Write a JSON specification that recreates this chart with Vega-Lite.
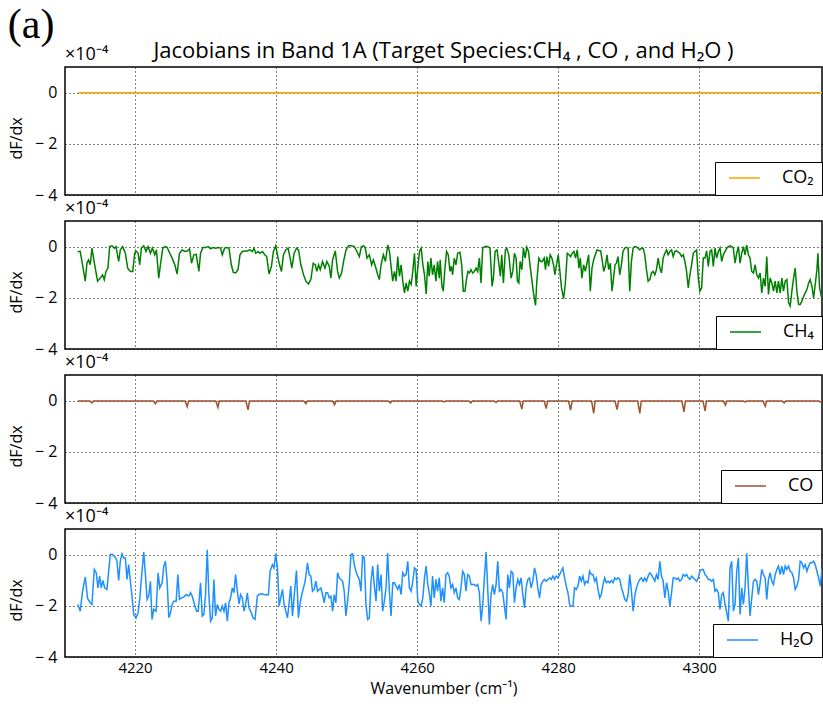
{
  "$schema": "https://vega.github.io/schema/vega-lite/v6.json",
  "padding": {"left": 7, "top": 4, "right": 0, "bottom": 0},
  "title": {"text": "(a)", "anchor": "start", "frame": "bounds", "font": "Liberation Serif", "fontSize": 42, "fontWeight": "normal", "color": "black", "offset": -8, "dx": 0},
  "spacing": 26,
  "bounds": "flush",
  "resolve": {"scale": {"color": "independent"}},
  "config": {
    "font": "Open Sans",
    "view": {"stroke": "black", "strokeWidth": 1.5},
    "axis": {"domain": false, "gridColor": "black", "gridDash": [1, 3], "gridOpacity": 1, "gridWidth": 1, "labelFontSize": 16, "labelColor": "black", "titleColor": "black", "titleFontWeight": "normal", "titleFontSize": 16, "ticks": false},
    "legend": {"orient": "bottom-right", "offset": 0, "strokeColor": "black", "fillColor": "white", "padding": 8, "symbolType": "stroke", "symbolSize": 961, "symbolStrokeWidth": 1.5, "symbolOffset": 5, "clipHeight": 16, "labelFontSize": 18, "labelOffset": 21, "labelColor": "black", "cornerRadius": 0},
    "title": {"fontWeight": "normal", "color": "black"}
  },
  "datasets": {
    "co2": [{"x": 4211.9, "y": -0.01}, {"x": 4240, "y": -0.01}, {"x": 4280, "y": -0.01}, {"x": 4317.6, "y": -0.01}],
    "ch4": [
      {"x":4211.85,"y":-0.19},{"x":4212.23,"y":-0.19},{"x":4212.56,"y":-0.71},{"x":4212.94,"y":-1.35},{"x":4213.18,"y":-0.65},{"x":4213.41,"y":-0.52},{"x":4213.65,"y":-0.71},{"x":4213.89,"y":-0.06},{"x":4214.12,"y":-0.45},{"x":4214.36,"y":-0.84},{"x":4214.69,"y":-1.35},{"x":4215.07,"y":-1.23},{"x":4215.40,"y":-1.10},{"x":4215.64,"y":-1.29},{"x":4215.88,"y":-0.97},{"x":4216.16,"y":-0.84},{"x":4216.40,"y":0},{"x":4216.73,"y":0.03},{"x":4217.06,"y":-0.06},{"x":4217.30,"y":0},{"x":4217.68,"y":-0.58},{"x":4217.91,"y":-0.13},{"x":4218.25,"y":0},{"x":4218.63,"y":-0.26},{"x":4218.96,"y":-0.84},{"x":4219.34,"y":-0.97},{"x":4219.67,"y":-0.97},{"x":4219.95,"y":-0.26},
      {"x":4220.14,"y":-0.17},{"x":4220.43,"y":-0.26},{"x":4220.66,"y":-0.71},{"x":4220.90,"y":-0.06},{"x":4221.23,"y":0.03},{"x":4221.56,"y":-0.19},{"x":4221.85,"y":0},{"x":4222.18,"y":-0.26},{"x":4222.46,"y":-0.06},{"x":4222.80,"y":-0.32},{"x":4223.03,"y":-0.13},{"x":4223.36,"y":-1.23},{"x":4223.60,"y":-0.71},{"x":4223.93,"y":-0.06},{"x":4224.22,"y":0},{"x":4224.55,"y":-0.03},{"x":4224.93,"y":-0.26},{"x":4225.26,"y":-0.45},{"x":4225.64,"y":-0.71},{"x":4225.97,"y":-1.07},{"x":4226.30,"y":-0.26},{"x":4226.68,"y":-0.13},{"x":4227.06,"y":-0.19},{"x":4227.39,"y":-0.17},{"x":4227.73,"y":-0.09},{"x":4228.01,"y":-0.65},{"x":4228.34,"y":-0.32},{"x":4228.67,"y":-0.30},{"x":4229.05,"y":-0.97},{"x":4229.29,"y":-0.26},{"x":4229.62,"y":-0.04},
      {"x":4230.00,"y":-0.04},{"x":4230.38,"y":0},{"x":4230.71,"y":-0.09},{"x":4231.04,"y":-0.04},{"x":4231.42,"y":-0.06},{"x":4231.80,"y":-0.04},{"x":4232.13,"y":-0.06},{"x":4232.37,"y":-0.32},{"x":4232.70,"y":-0.06},{"x":4232.99,"y":-0.04},{"x":4233.32,"y":-0.06},{"x":4233.65,"y":-0.71},{"x":4233.93,"y":-1.01},{"x":4234.27,"y":-1.03},{"x":4234.60,"y":-0.90},{"x":4234.88,"y":-0.32},{"x":4235.21,"y":-0.19},{"x":4235.59,"y":-0.17},{"x":4235.92,"y":-0.17},{"x":4236.26,"y":-0.13},{"x":4236.64,"y":-0.19},{"x":4236.87,"y":-0.06},{"x":4237.11,"y":-0.26},{"x":4237.44,"y":-0.19},{"x":4237.73,"y":-0.26},{"x":4238.06,"y":-0.19},{"x":4238.39,"y":-0.32},{"x":4238.67,"y":-0.39},{"x":4239.00,"y":-1.07},{"x":4239.34,"y":-0.77},{"x":4239.62,"y":-0.19},{"x":4239.95,"y":0.03},
      {"x":4240.19,"y":-0.32},{"x":4240.43,"y":-0.65},{"x":4240.76,"y":-0.97},{"x":4241.04,"y":-0.32},{"x":4241.37,"y":-0.13},{"x":4241.71,"y":-0.06},{"x":4241.99,"y":-0.45},{"x":4242.23,"y":-0.84},{"x":4242.56,"y":-0.26},{"x":4242.89,"y":-0.06},{"x":4243.18,"y":-0.13},{"x":4243.51,"y":-0.71},{"x":4243.89,"y":-1.10},{"x":4244.22,"y":-1.35},{"x":4244.60,"y":-1.46},{"x":4244.93,"y":-1.29},{"x":4245.26,"y":-0.65},{"x":4245.55,"y":-0.71},{"x":4245.78,"y":-0.97},{"x":4246.02,"y":-0.71},{"x":4246.26,"y":-0.90},{"x":4246.59,"y":-0.58},{"x":4246.92,"y":-0.84},{"x":4247.20,"y":-0.58},{"x":4247.54,"y":-0.77},{"x":4247.77,"y":-1.23},{"x":4248.01,"y":-0.52},{"x":4248.39,"y":-0.17},{"x":4248.72,"y":-0.97},{"x":4248.96,"y":-1.23},{"x":4249.29,"y":-1.03},{"x":4249.57,"y":-0.58},{"x":4249.91,"y":-0.13},
      {"x":4250.28,"y":0.03},{"x":4250.71,"y":0.03},{"x":4251.09,"y":0},{"x":4251.47,"y":-0.19},{"x":4251.80,"y":-0.39},{"x":4252.09,"y":0},{"x":4252.42,"y":0.03},{"x":4252.65,"y":-0.06},{"x":4252.89,"y":-0.45},{"x":4253.22,"y":-0.32},{"x":4253.55,"y":-0.71},{"x":4253.79,"y":-0.52},{"x":4254.08,"y":-0.77},{"x":4254.41,"y":-1.10},{"x":4254.64,"y":-1.29},{"x":4254.88,"y":-0.71},{"x":4255.21,"y":-0.32},{"x":4255.50,"y":-0.58},{"x":4255.83,"y":0.06},{"x":4256.07,"y":-0.19},{"x":4256.30,"y":-0.77},{"x":4256.54,"y":-1.35},{"x":4256.78,"y":-0.97},{"x":4257.01,"y":-1.35},{"x":4257.25,"y":-0.39},{"x":4257.49,"y":-1.16},{"x":4257.73,"y":-0.71},{"x":4257.96,"y":-1.35},{"x":4258.20,"y":-1.81},{"x":4258.44,"y":-1.42},{"x":4258.67,"y":-1.74},{"x":4258.91,"y":-1.35},{"x":4259.15,"y":-1.48},{"x":4259.38,"y":-0.97},{"x":4259.62,"y":-0.26},{"x":4259.86,"y":-1.55},
      {"x":4260.09,"y":-0.84},{"x":4260.33,"y":-0.19},{"x":4260.57,"y":-0.06},{"x":4260.81,"y":-0.71},{"x":4261.04,"y":-1.10},{"x":4261.28,"y":-1.85},{"x":4261.52,"y":-0.58},{"x":4261.71,"y":-1.16},{"x":4261.95,"y":-0.45},{"x":4262.18,"y":-1.10},{"x":4262.42,"y":-0.71},{"x":4262.66,"y":-1.35},{"x":4262.89,"y":-0.58},{"x":4263.13,"y":-1.23},{"x":4263.27,"y":-0.52},{"x":4263.51,"y":-1.55},{"x":4263.70,"y":-1.74},{"x":4263.94,"y":-0.84},{"x":4264.17,"y":-0.19},{"x":4264.41,"y":-0.32},{"x":4264.65,"y":-0.97},{"x":4264.84,"y":-0.77},{"x":4265.03,"y":-1.10},{"x":4265.26,"y":-0.45},{"x":4265.50,"y":-0.71},{"x":4265.74,"y":-0.26},{"x":4266.07,"y":-0.22},{"x":4266.31,"y":-0.71},{"x":4266.54,"y":-1.74},{"x":4266.78,"y":-1.74},{"x":4267.02,"y":-1.23},{"x":4267.21,"y":-0.97},{"x":4267.40,"y":-1.03},{"x":4267.63,"y":-0.90},{"x":4267.87,"y":-1.03},{"x":4268.11,"y":-0.97},{"x":4268.34,"y":-0.84},{"x":4268.58,"y":-0.97},{"x":4268.82,"y":-0.45},{"x":4269.06,"y":-1.42},{"x":4269.29,"y":-0.06},{"x":4269.62,"y":0},
      {"x":4270.00,"y":0},{"x":4270.33,"y":-0.06},{"x":4270.62,"y":-1.55},{"x":4270.81,"y":-1.23},{"x":4271.05,"y":-0.19},{"x":4271.33,"y":-0.13},{"x":4271.57,"y":-0.65},{"x":4271.80,"y":-1.16},{"x":4271.99,"y":-0.32},{"x":4272.23,"y":-1.42},{"x":4272.51,"y":-0.13},{"x":4272.70,"y":-0.06},{"x":4272.99,"y":-0.32},{"x":4273.32,"y":-1.23},{"x":4273.56,"y":-0.97},{"x":4273.79,"y":-0.26},{"x":4274.03,"y":-0.45},{"x":4274.22,"y":-1.35},{"x":4274.41,"y":-1.42},{"x":4274.60,"y":-0.58},{"x":4274.84,"y":-0.90},{"x":4275.07,"y":-0.06},{"x":4275.31,"y":-0.45},{"x":4275.55,"y":-0.03},{"x":4275.79,"y":-0.19},{"x":4276.02,"y":-0.77},{"x":4276.26,"y":-1.29},{"x":4276.49,"y":-1.81},{"x":4276.78,"y":-2.30},{"x":4276.97,"y":-1.35},{"x":4277.25,"y":-0.45},{"x":4277.49,"y":-0.58},{"x":4277.73,"y":-0.58},{"x":4278.01,"y":-0.45},{"x":4278.20,"y":-0.90},{"x":4278.39,"y":-0.39},{"x":4278.63,"y":-0.77},{"x":4278.86,"y":-0.32},{"x":4279.10,"y":-0.45},{"x":4279.34,"y":-0.71},{"x":4279.53,"y":-1.10},{"x":4279.72,"y":-0.77},
      {"x":4280.00,"y":-0.32},{"x":4280.19,"y":-0.84},{"x":4280.47,"y":-1.61},{"x":4280.76,"y":-2.03},{"x":4281.00,"y":-1.48},{"x":4281.28,"y":-0.26},{"x":4281.52,"y":-0.32},{"x":4281.75,"y":-0.39},{"x":4281.99,"y":-0.26},{"x":4282.23,"y":-0.19},{"x":4282.46,"y":-0.45},{"x":4282.70,"y":-0.13},{"x":4282.94,"y":-0.84},{"x":4283.13,"y":-0.45},{"x":4283.36,"y":-1.23},{"x":4283.60,"y":-0.71},{"x":4283.84,"y":-0.97},{"x":4284.08,"y":-0.65},{"x":4284.31,"y":-0.32},{"x":4284.55,"y":-1.74},{"x":4284.79,"y":-0.84},{"x":4285.02,"y":-0.52},{"x":4285.26,"y":-0.32},{"x":4285.50,"y":-0.13},{"x":4285.73,"y":-0.15},{"x":4286.02,"y":-0.17},{"x":4286.26,"y":-0.58},{"x":4286.45,"y":-0.97},{"x":4286.68,"y":-0.77},{"x":4286.92,"y":-0.32},{"x":4287.16,"y":-0.90},{"x":4287.39,"y":-0.65},{"x":4287.63,"y":-1.74},{"x":4287.87,"y":-1.16},{"x":4288.06,"y":-0.71},{"x":4288.25,"y":-0.65},{"x":4288.48,"y":-0.39},{"x":4288.72,"y":-1.10},{"x":4288.96,"y":-0.71},{"x":4289.19,"y":-0.19},{"x":4289.43,"y":-0.06},{"x":4289.67,"y":-0.03},{"x":4289.91,"y":-0.06},
      {"x":4290.14,"y":-1.74},{"x":4290.38,"y":-0.58},{"x":4290.62,"y":-0.06},{"x":4290.85,"y":0},{"x":4291.09,"y":-0.01},{"x":4291.33,"y":-0.06},{"x":4291.56,"y":-0.13},{"x":4291.80,"y":-0.06},{"x":4292.04,"y":-0.06},{"x":4292.27,"y":-0.32},{"x":4292.51,"y":-0.90},{"x":4292.75,"y":-1.35},{"x":4292.99,"y":-1.29},{"x":4293.22,"y":-1.03},{"x":4293.46,"y":-0.97},{"x":4293.70,"y":-1.10},{"x":4293.93,"y":-0.90},{"x":4294.17,"y":-0.45},{"x":4294.41,"y":-0.84},{"x":4294.64,"y":-1.03},{"x":4294.88,"y":-0.45},{"x":4295.12,"y":-0.26},{"x":4295.36,"y":-0.13},{"x":4295.59,"y":-0.32},{"x":4295.83,"y":-0.19},{"x":4296.07,"y":-0.13},{"x":4296.30,"y":-0.39},{"x":4296.54,"y":-0.19},{"x":4296.78,"y":-0.17},{"x":4297.01,"y":-0.22},{"x":4297.25,"y":-0.26},{"x":4297.49,"y":-0.39},{"x":4297.73,"y":-0.32},{"x":4297.96,"y":-0.58},{"x":4298.20,"y":-0.97},{"x":4298.44,"y":-1.61},{"x":4298.67,"y":-1.10},{"x":4298.91,"y":-0.71},{"x":4299.15,"y":-0.26},{"x":4299.38,"y":-0.19},{"x":4299.62,"y":-0.13},{"x":4299.86,"y":-1.23},
      {"x":4300.09,"y":-1.74},{"x":4300.33,"y":-1.61},{"x":4300.57,"y":-0.45},{"x":4300.81,"y":-0.45},{"x":4301.04,"y":-0.17},{"x":4301.28,"y":-0.77},{"x":4301.52,"y":-0.19},{"x":4301.75,"y":-0.13},{"x":4301.99,"y":-0.77},{"x":4302.23,"y":-0.06},{"x":4302.46,"y":-0.45},{"x":4302.70,"y":-0.19},{"x":4302.94,"y":-0.06},{"x":4303.18,"y":-0.58},{"x":4303.41,"y":-0.32},{"x":4303.65,"y":-0.19},{"x":4303.89,"y":-0.06},{"x":4304.12,"y":0},{"x":4304.36,"y":0.03},{"x":4304.60,"y":0},{"x":4304.83,"y":-0.06},{"x":4305.07,"y":-0.65},{"x":4305.31,"y":-0.26},{"x":4305.55,"y":0},{"x":4305.78,"y":-0.65},{"x":4306.02,"y":-0.26},{"x":4306.26,"y":0},{"x":4306.49,"y":-0.32},{"x":4306.73,"y":0.06},{"x":4306.97,"y":-0.32},{"x":4307.20,"y":-0.45},{"x":4307.44,"y":-0.97},{"x":4307.68,"y":-1.03},{"x":4307.92,"y":-0.71},{"x":4308.15,"y":-1.10},{"x":4308.39,"y":-1.23},{"x":4308.63,"y":-1.03},{"x":4308.86,"y":-1.81},{"x":4309.10,"y":-1.23},{"x":4309.34,"y":-1.55},{"x":4309.57,"y":-0.39},{"x":4309.81,"y":-1.87},
      {"x":4310.05,"y":-1.23},{"x":4310.29,"y":-1.42},{"x":4310.52,"y":-1.74},{"x":4310.76,"y":-1.35},{"x":4311.00,"y":-1.81},{"x":4311.23,"y":-1.35},{"x":4311.47,"y":-1.81},{"x":4311.71,"y":-1.23},{"x":4311.94,"y":-1.74},{"x":4312.18,"y":-1.35},{"x":4312.42,"y":-1.29},{"x":4312.66,"y":-2.19},{"x":4312.89,"y":-2.32},{"x":4313.13,"y":-1.74},{"x":4313.37,"y":-1.23},{"x":4313.60,"y":-0.84},{"x":4313.84,"y":-1.74},{"x":4314.08,"y":-2.26},{"x":4314.31,"y":-2.26},{"x":4314.55,"y":-2.13},{"x":4314.79,"y":-1.94},{"x":4315.02,"y":-1.81},{"x":4315.26,"y":-1.68},{"x":4315.50,"y":-1.42},{"x":4315.73,"y":-1.29},{"x":4315.97,"y":-1.55},{"x":4316.21,"y":-2.00},{"x":4316.44,"y":-1.48},{"x":4316.68,"y":-0.90},{"x":4316.82,"y":-0.26},{"x":4317.06,"y":-1.61},{"x":4317.25,"y":-1.87},{"x":4317.53,"y":-2.26}
    ],
    "co": [
      {"x":4211.9,"y":-0.02},{"x":4213.6,"y":-0.02},{"x":4213.89,"y":-0.09},{"x":4214.1,"y":-0.02},{"x":4222.6,"y":-0.02},{"x":4222.89,"y":-0.12},{"x":4223.1,"y":-0.02},{"x":4227.1,"y":-0.02},{"x":4227.39,"y":-0.24},{"x":4227.6,"y":-0.02},{"x":4231.45,"y":-0.02},{"x":4231.75,"y":-0.27},{"x":4231.95,"y":-0.02},{"x":4235.72,"y":-0.02},{"x":4236.02,"y":-0.36},{"x":4236.22,"y":-0.02},{"x":4243.92,"y":-0.02},{"x":4244.22,"y":-0.12},{"x":4244.42,"y":-0.02},{"x":4248.0,"y":-0.02},{"x":4248.29,"y":-0.16},{"x":4248.5,"y":-0.02},{"x":4255.9,"y":-0.02},{"x":4256.21,"y":-0.09},{"x":4256.4,"y":-0.02},
      {"x":4263.55,"y":-0.02},{"x":4263.84,"y":-0.05},{"x":4264.05,"y":-0.02},{"x":4267.33,"y":-0.02},{"x":4267.63,"y":-0.09},{"x":4267.83,"y":-0.02},{"x":4270.9,"y":-0.02},{"x":4271.19,"y":-0.07},{"x":4271.4,"y":-0.02},{"x":4274.54,"y":-0.02},{"x":4274.84,"y":-0.33},{"x":4275.04,"y":-0.02},{"x":4278.0,"y":-0.02},{"x":4278.3,"y":-0.31},{"x":4278.5,"y":-0.02},{"x":4281.46,"y":-0.02},{"x":4281.76,"y":-0.37},{"x":4281.96,"y":-0.02},{"x":4284.73,"y":-0.02},{"x":4285.03,"y":-0.5},{"x":4285.23,"y":-0.02},{"x":4288.05,"y":-0.02},{"x":4288.35,"y":-0.35},{"x":4288.55,"y":-0.02},{"x":4291.27,"y":-0.02},{"x":4291.57,"y":-0.5},{"x":4291.77,"y":-0.02},{"x":4297.53,"y":-0.02},{"x":4297.83,"y":-0.44},{"x":4298.03,"y":-0.02},{"x":4300.52,"y":-0.02},{"x":4300.82,"y":-0.4},{"x":4301.02,"y":-0.02},{"x":4303.41,"y":-0.02},{"x":4303.71,"y":-0.18},{"x":4303.91,"y":-0.02},{"x":4306.21,"y":-0.02},{"x":4306.51,"y":-0.05},{"x":4306.71,"y":-0.02},{"x":4309.05,"y":-0.02},{"x":4309.35,"y":-0.22},{"x":4309.55,"y":-0.02},{"x":4311.75,"y":-0.02},{"x":4312.05,"y":-0.09},{"x":4312.25,"y":-0.02},{"x":4316.96,"y":-0.02},{"x":4317.26,"y":-0.07},{"x":4317.46,"y":-0.02}
    ],
    "h2o": [
      {"x":4211.90,"y":-1.95},{"x":4212.23,"y":-2.21},{"x":4212.56,"y":-1.43},{"x":4212.94,"y":-0.88},{"x":4213.27,"y":-1.71},{"x":4213.65,"y":-1.88},{"x":4213.89,"y":-1.95},{"x":4214.22,"y":-0.58},{"x":4214.50,"y":-0.71},{"x":4214.74,"y":-1.30},{"x":4214.98,"y":-0.84},{"x":4215.21,"y":-1.30},{"x":4215.45,"y":-1.01},{"x":4215.69,"y":-1.30},{"x":4216.02,"y":-1.36},{"x":4216.26,"y":-0.65},{"x":4216.49,"y":0},{"x":4216.82,"y":0},{"x":4217.20,"y":-0.10},{"x":4217.44,"y":-0.26},{"x":4217.68,"y":-1.01},{"x":4217.91,"y":-0.26},{"x":4218.15,"y":0.03},{"x":4218.39,"y":-0.13},{"x":4218.63,"y":-0.13},{"x":4218.86,"y":-0.97},{"x":4219.10,"y":-0.39},{"x":4219.34,"y":-1.04},{"x":4219.57,"y":-1.62},{"x":4219.81,"y":-2.34},
      {"x":4220.14,"y":-2.47},{"x":4220.43,"y":-2.27},{"x":4220.66,"y":-1.75},{"x":4220.99,"y":-0.65},{"x":4221.23,"y":0.10},{"x":4221.47,"y":-0.78},{"x":4221.70,"y":-1.75},{"x":4221.94,"y":-1.62},{"x":4222.18,"y":-1.04},{"x":4222.41,"y":-2.53},{"x":4222.65,"y":-2.14},{"x":4222.98,"y":-2.21},{"x":4223.27,"y":-0.71},{"x":4223.51,"y":-1.30},{"x":4223.84,"y":-1.10},{"x":4224.08,"y":-0.45},{"x":4224.31,"y":-0.26},{"x":4224.55,"y":-1.04},{"x":4224.79,"y":-2.47},{"x":4225.02,"y":-2.27},{"x":4225.26,"y":-1.95},{"x":4225.50,"y":-1.82},{"x":4225.83,"y":-1.82},{"x":4226.07,"y":-0.78},{"x":4226.30,"y":-1.75},{"x":4226.59,"y":-1.69},{"x":4226.92,"y":-1.66},{"x":4227.25,"y":-1.56},{"x":4227.63,"y":-1.62},{"x":4227.87,"y":-1.49},{"x":4228.10,"y":-1.62},{"x":4228.43,"y":-1.95},{"x":4228.72,"y":-2.21},{"x":4228.96,"y":-2.21},{"x":4229.29,"y":-1.10},{"x":4229.53,"y":-2.40},{"x":4229.76,"y":-2.34},
      {"x":4230.00,"y":-1.56},{"x":4230.24,"y":0.19},{"x":4230.47,"y":-1.56},{"x":4230.71,"y":-2.60},{"x":4230.95,"y":-2.47},{"x":4231.18,"y":-0.97},{"x":4231.42,"y":-2.40},{"x":4231.66,"y":-1.95},{"x":4231.89,"y":-2.14},{"x":4232.13,"y":-2.21},{"x":4232.37,"y":-2.01},{"x":4232.61,"y":-2.21},{"x":4232.84,"y":-1.88},{"x":4233.08,"y":-2.60},{"x":4233.32,"y":-1.88},{"x":4233.55,"y":-1.69},{"x":4233.79,"y":-1.30},{"x":4234.03,"y":-1.49},{"x":4234.26,"y":-0.78},{"x":4234.50,"y":-1.43},{"x":4234.74,"y":-1.92},{"x":4234.97,"y":-1.56},{"x":4235.21,"y":-1.69},{"x":4235.45,"y":-2.21},{"x":4235.68,"y":-1.95},{"x":4235.92,"y":-1.49},{"x":4236.16,"y":-2.08},{"x":4236.40,"y":-2.21},{"x":4236.73,"y":-2.47},{"x":4237.01,"y":-2.53},{"x":4237.34,"y":-1.62},{"x":4237.58,"y":-1.56},{"x":4237.91,"y":-1.53},{"x":4238.29,"y":-1.56},{"x":4238.62,"y":-1.58},{"x":4238.91,"y":-1.56},{"x":4239.15,"y":-0.65},{"x":4239.48,"y":-0.39},{"x":4239.71,"y":-0.52},{"x":4239.95,"y":0.03},
      {"x":4240.19,"y":-0.52},{"x":4240.43,"y":-2.01},{"x":4240.66,"y":-1.69},{"x":4240.90,"y":-1.36},{"x":4241.14,"y":-1.95},{"x":4241.37,"y":-2.21},{"x":4241.61,"y":-2.47},{"x":4241.85,"y":-1.88},{"x":4242.08,"y":-1.23},{"x":4242.32,"y":-2.40},{"x":4242.56,"y":-1.62},{"x":4242.89,"y":-0.62},{"x":4243.17,"y":-2.47},{"x":4243.41,"y":-1.88},{"x":4243.65,"y":-1.56},{"x":4243.88,"y":-1.30},{"x":4244.12,"y":-1.04},{"x":4244.45,"y":-0.32},{"x":4244.69,"y":-0.78},{"x":4244.93,"y":-0.84},{"x":4245.16,"y":-1.43},{"x":4245.40,"y":-1.36},{"x":4245.64,"y":-1.04},{"x":4245.87,"y":-1.43},{"x":4246.11,"y":-1.36},{"x":4246.35,"y":-1.30},{"x":4246.58,"y":-1.56},{"x":4246.82,"y":-1.88},{"x":4247.06,"y":-1.49},{"x":4247.30,"y":-1.49},{"x":4247.53,"y":-1.69},{"x":4247.77,"y":-1.62},{"x":4248.01,"y":-2.21},{"x":4248.24,"y":-1.56},{"x":4248.48,"y":-1.88},{"x":4248.72,"y":-0.71},{"x":4248.95,"y":-0.91},{"x":4249.19,"y":-0.97},{"x":4249.43,"y":-1.04},{"x":4249.66,"y":-1.43},{"x":4249.90,"y":-2.40},
      {"x":4250.14,"y":-1.82},{"x":4250.38,"y":-1.10},{"x":4250.61,"y":0},{"x":4250.85,"y":0.03},{"x":4251.09,"y":-0.39},{"x":4251.32,"y":-0.65},{"x":4251.56,"y":-0.84},{"x":4251.80,"y":-0.97},{"x":4252.03,"y":-1.43},{"x":4252.27,"y":-0.06},{"x":4252.51,"y":-0.13},{"x":4252.74,"y":-1.95},{"x":4252.98,"y":-2.53},{"x":4253.22,"y":-2.47},{"x":4253.46,"y":-1.04},{"x":4253.69,"y":-0.45},{"x":4253.93,"y":-1.23},{"x":4254.17,"y":-1.82},{"x":4254.40,"y":-0.39},{"x":4254.64,"y":-1.43},{"x":4254.88,"y":-0.78},{"x":4255.11,"y":-2.21},{"x":4255.35,"y":-1.82},{"x":4255.59,"y":-1.30},{"x":4255.82,"y":0.06},{"x":4256.06,"y":-1.43},{"x":4256.30,"y":-2.40},{"x":4256.54,"y":-1.10},{"x":4256.77,"y":-1.10},{"x":4257.01,"y":-1.23},{"x":4257.25,"y":-1.36},{"x":4257.48,"y":-1.17},{"x":4257.72,"y":-1.56},{"x":4257.96,"y":-0.71},{"x":4258.19,"y":-0.84},{"x":4258.43,"y":-0.78},{"x":4258.67,"y":-0.26},{"x":4258.90,"y":-1.30},{"x":4259.14,"y":-1.43},{"x":4259.38,"y":-1.04},{"x":4259.62,"y":-0.52},{"x":4259.85,"y":-0.58},
      {"x":4260.09,"y":-1.82},{"x":4260.33,"y":-1.95},{"x":4260.56,"y":-2.01},{"x":4260.80,"y":-1.69},{"x":4261.04,"y":-0.91},{"x":4261.27,"y":-0.45},{"x":4261.51,"y":-1.17},{"x":4261.71,"y":-1.49},{"x":4261.95,"y":-2.01},{"x":4262.18,"y":-0.84},{"x":4262.42,"y":-1.69},{"x":4262.66,"y":-0.97},{"x":4262.89,"y":-1.43},{"x":4263.13,"y":-0.91},{"x":4263.37,"y":-1.82},{"x":4263.61,"y":-1.30},{"x":4263.84,"y":-1.88},{"x":4264.08,"y":-0.78},{"x":4264.32,"y":-0.71},{"x":4264.55,"y":-0.84},{"x":4264.79,"y":-1.30},{"x":4265.03,"y":-1.17},{"x":4265.26,"y":-1.49},{"x":4265.50,"y":-1.30},{"x":4265.74,"y":-1.69},{"x":4265.98,"y":-1.75},{"x":4266.21,"y":-1.30},{"x":4266.45,"y":-0.65},{"x":4266.69,"y":-0.78},{"x":4266.92,"y":-1.43},{"x":4267.16,"y":-0.78},{"x":4267.40,"y":-0.84},{"x":4267.63,"y":-1.17},{"x":4267.87,"y":-1.17},{"x":4268.11,"y":-1.17},{"x":4268.34,"y":-1.23},{"x":4268.58,"y":-1.17},{"x":4268.82,"y":-1.49},{"x":4269.06,"y":-2.60},{"x":4269.29,"y":-2.01},{"x":4269.53,"y":-0.91},{"x":4269.77,"y":0.10},
      {"x":4270.00,"y":-1.30},{"x":4270.24,"y":-2.73},{"x":4270.48,"y":-1.56},{"x":4270.71,"y":-1.17},{"x":4270.95,"y":-1.56},{"x":4271.19,"y":-1.17},{"x":4271.43,"y":-0.26},{"x":4271.66,"y":-1.43},{"x":4271.90,"y":-1.36},{"x":4272.14,"y":-1.49},{"x":4272.37,"y":-2.01},{"x":4272.61,"y":-2.53},{"x":4272.85,"y":-0.78},{"x":4273.08,"y":-1.30},{"x":4273.32,"y":-0.65},{"x":4273.56,"y":-0.71},{"x":4273.79,"y":-1.88},{"x":4274.03,"y":-1.30},{"x":4274.27,"y":-0.97},{"x":4274.51,"y":-1.17},{"x":4274.74,"y":-0.91},{"x":4274.98,"y":-1.56},{"x":4275.22,"y":-2.08},{"x":4275.45,"y":-1.30},{"x":4275.69,"y":-0.97},{"x":4275.93,"y":-0.91},{"x":4276.16,"y":-1.30},{"x":4276.40,"y":-1.04},{"x":4276.64,"y":-0.52},{"x":4276.87,"y":-0.78},{"x":4277.11,"y":-1.30},{"x":4277.35,"y":-1.69},{"x":4277.58,"y":-1.17},{"x":4277.82,"y":-1.04},{"x":4278.06,"y":-0.97},{"x":4278.30,"y":-1.04},{"x":4278.53,"y":-0.97},{"x":4278.77,"y":-0.91},{"x":4279.01,"y":-0.97},{"x":4279.24,"y":-0.84},{"x":4279.48,"y":-0.97},{"x":4279.72,"y":-0.84},{"x":4279.95,"y":-0.91},
      {"x":4280.19,"y":-0.78},{"x":4280.43,"y":-0.65},{"x":4280.66,"y":-0.52},{"x":4280.90,"y":-0.91},{"x":4281.14,"y":-1.23},{"x":4281.38,"y":-1.49},{"x":4281.61,"y":-1.95},{"x":4281.85,"y":-2.01},{"x":4282.09,"y":-2.01},{"x":4282.32,"y":-1.30},{"x":4282.56,"y":-1.36},{"x":4282.80,"y":-1.23},{"x":4283.03,"y":-0.84},{"x":4283.27,"y":-1.04},{"x":4283.51,"y":-0.84},{"x":4283.74,"y":-1.17},{"x":4283.98,"y":-1.04},{"x":4284.22,"y":-1.10},{"x":4284.45,"y":-0.65},{"x":4284.69,"y":-0.78},{"x":4284.93,"y":-0.78},{"x":4285.17,"y":-1.04},{"x":4285.40,"y":-0.91},{"x":4285.64,"y":-1.36},{"x":4285.88,"y":-1.69},{"x":4286.11,"y":-1.56},{"x":4286.35,"y":-1.17},{"x":4286.59,"y":-0.91},{"x":4286.82,"y":-1.10},{"x":4287.06,"y":-1.04},{"x":4287.30,"y":-1.10},{"x":4287.53,"y":-1.01},{"x":4287.77,"y":-1.10},{"x":4288.01,"y":-0.91},{"x":4288.25,"y":-0.97},{"x":4288.48,"y":-0.91},{"x":4288.72,"y":-0.97},{"x":4288.96,"y":-1.30},{"x":4289.19,"y":-1.49},{"x":4289.43,"y":-1.75},{"x":4289.67,"y":-1.82},{"x":4289.91,"y":-1.56},
      {"x":4290.14,"y":-0.78},{"x":4290.38,"y":-1.43},{"x":4290.62,"y":-2.21},{"x":4290.85,"y":-1.62},{"x":4291.09,"y":-1.30},{"x":4291.33,"y":-1.10},{"x":4291.56,"y":-0.97},{"x":4291.80,"y":-0.91},{"x":4292.04,"y":-1.04},{"x":4292.27,"y":-0.91},{"x":4292.51,"y":-1.04},{"x":4292.75,"y":-0.84},{"x":4292.99,"y":-0.71},{"x":4293.22,"y":-0.78},{"x":4293.46,"y":-0.91},{"x":4293.70,"y":-1.04},{"x":4293.93,"y":-0.78},{"x":4294.17,"y":-0.97},{"x":4294.41,"y":-0.26},{"x":4294.64,"y":-0.84},{"x":4294.88,"y":-1.04},{"x":4295.12,"y":-1.69},{"x":4295.36,"y":-1.10},{"x":4295.59,"y":-1.43},{"x":4295.83,"y":-2.01},{"x":4296.07,"y":-1.49},{"x":4296.30,"y":-0.91},{"x":4296.54,"y":-0.91},{"x":4296.78,"y":-0.97},{"x":4297.01,"y":-0.91},{"x":4297.25,"y":-1.04},{"x":4297.49,"y":-0.97},{"x":4297.73,"y":-0.78},{"x":4297.96,"y":-0.84},{"x":4298.20,"y":-0.78},{"x":4298.44,"y":-0.91},{"x":4298.67,"y":-0.97},{"x":4298.91,"y":-0.84},{"x":4299.15,"y":-0.91},{"x":4299.38,"y":-0.97},{"x":4299.62,"y":-1.04},{"x":4299.86,"y":-0.91},
      {"x":4300.09,"y":-0.65},{"x":4300.33,"y":-0.58},{"x":4300.57,"y":-0.58},{"x":4300.81,"y":-0.78},{"x":4301.04,"y":-0.84},{"x":4301.28,"y":-0.97},{"x":4301.52,"y":-0.97},{"x":4301.75,"y":-1.04},{"x":4301.99,"y":-0.97},{"x":4302.23,"y":-1.43},{"x":4302.46,"y":-1.36},{"x":4302.70,"y":-1.49},{"x":4302.94,"y":-2.14},{"x":4303.18,"y":-1.56},{"x":4303.41,"y":-1.49},{"x":4303.65,"y":-1.95},{"x":4303.89,"y":-2.27},{"x":4304.12,"y":-2.60},{"x":4304.36,"y":-0.52},{"x":4304.60,"y":-0.26},{"x":4304.83,"y":-2.21},{"x":4305.07,"y":-1.95},{"x":4305.31,"y":-0.65},{"x":4305.55,"y":-0.13},{"x":4305.78,"y":-2.34},{"x":4306.02,"y":-1.30},{"x":4306.26,"y":-1.95},{"x":4306.49,"y":-1.30},{"x":4306.73,"y":0.05},{"x":4306.97,"y":-1.30},{"x":4307.20,"y":-2.40},{"x":4307.44,"y":-1.69},{"x":4307.68,"y":-1.04},{"x":4307.92,"y":-0.97},{"x":4308.15,"y":-1.04},{"x":4308.39,"y":-1.56},{"x":4308.63,"y":-1.10},{"x":4308.86,"y":-0.58},{"x":4309.10,"y":-0.78},{"x":4309.34,"y":-0.91},{"x":4309.57,"y":-1.75},{"x":4309.81,"y":-0.97},
      {"x":4310.05,"y":-0.71},{"x":4310.29,"y":-1.04},{"x":4310.52,"y":-1.17},{"x":4310.76,"y":-0.78},{"x":4311.00,"y":-0.58},{"x":4311.23,"y":-0.45},{"x":4311.47,"y":-0.78},{"x":4311.71,"y":-0.45},{"x":4311.94,"y":-0.78},{"x":4312.18,"y":-0.45},{"x":4312.42,"y":-0.58},{"x":4312.66,"y":-0.45},{"x":4312.89,"y":-0.65},{"x":4313.13,"y":-0.71},{"x":4313.37,"y":-0.91},{"x":4313.60,"y":-1.36},{"x":4313.84,"y":-1.23},{"x":4314.08,"y":-0.97},{"x":4314.31,"y":-0.26},{"x":4314.55,"y":-0.32},{"x":4314.79,"y":-0.52},{"x":4315.02,"y":-0.39},{"x":4315.26,"y":-0.65},{"x":4315.50,"y":-0.45},{"x":4315.73,"y":-0.32},{"x":4315.97,"y":-0.32},{"x":4316.21,"y":-0.26},{"x":4316.44,"y":-0.39},{"x":4316.68,"y":-0.65},{"x":4316.92,"y":-0.91},{"x":4317.15,"y":-1.23},{"x":4317.39,"y":-0.58},{"x":4317.63,"y":-0.52}
    ]
  },
  "vconcat": [
    {
      "width": 757, "height": 128,
      "title": {"text": "Jacobians in Band 1A (Target Species:CH₄ , CO , and  H₂O )", "fontSize": 22, "anchor": "middle", "offset": -17},
      "layer": [
        {"data": {"name": "co2"}, "mark": {"type": "line", "strokeWidth": 1.5, "clip": true},
         "encoding": {
           "x": {"field": "x", "type": "quantitative", "scale": {"domain": [4210.07, 4317.4], "nice": false, "zero": false}, "axis": {"values": [4220, 4240, 4260, 4280, 4300], "labels": false, "title": null, "grid": true}},
           "y": {"field": "y", "type": "quantitative", "scale": {"domain": [-4, 1], "nice": false}, "axis": {"values": [0, -2, -4], "format": "d", "labelExpr": "replace(datum.label, '−', '− ')", "title": "dF/dx", "titleY": 71, "grid": true, "labelPadding": 8, "titlePadding": 10}},
           "color": {"datum": "CO₂", "scale": {"range": ["#FFA500"]}, "legend": {"title": null}}
         }},
        {"data": {"values": [{}]}, "mark": {"type": "text", "align": "left", "baseline": "bottom", "fontSize": 18, "dy": -3},
         "encoding": {"x": {"datum": 4210.07}, "y": {"datum": 1}, "text": {"value": "×10⁻⁴"}}}
      ]
    },
    {
      "width": 757, "height": 128,
      "layer": [
        {"data": {"name": "ch4"}, "mark": {"type": "line", "strokeWidth": 1.5, "clip": true},
         "encoding": {
           "x": {"field": "x", "type": "quantitative", "scale": {"domain": [4210.07, 4317.4], "nice": false, "zero": false}, "axis": {"values": [4220, 4240, 4260, 4280, 4300], "labels": false, "title": null, "grid": true}},
           "y": {"field": "y", "type": "quantitative", "scale": {"domain": [-4, 1], "nice": false}, "axis": {"values": [0, -2, -4], "format": "d", "labelExpr": "replace(datum.label, '−', '− ')", "title": "dF/dx", "titleY": 71, "grid": true, "labelPadding": 8, "titlePadding": 10}},
           "color": {"datum": "CH₄", "scale": {"range": ["#008000"]}, "legend": {"title": null}}
         }},
        {"data": {"values": [{}]}, "mark": {"type": "text", "align": "left", "baseline": "bottom", "fontSize": 18, "dy": -3},
         "encoding": {"x": {"datum": 4210.07}, "y": {"datum": 1}, "text": {"value": "×10⁻⁴"}}}
      ]
    },
    {
      "width": 757, "height": 128,
      "layer": [
        {"data": {"name": "co"}, "mark": {"type": "line", "strokeWidth": 1.5, "clip": true},
         "encoding": {
           "x": {"field": "x", "type": "quantitative", "scale": {"domain": [4210.07, 4317.4], "nice": false, "zero": false}, "axis": {"values": [4220, 4240, 4260, 4280, 4300], "labels": false, "title": null, "grid": true}},
           "y": {"field": "y", "type": "quantitative", "scale": {"domain": [-4, 1], "nice": false}, "axis": {"values": [0, -2, -4], "format": "d", "labelExpr": "replace(datum.label, '−', '− ')", "title": "dF/dx", "titleY": 71, "grid": true, "labelPadding": 8, "titlePadding": 10}},
           "color": {"datum": "CO", "scale": {"range": ["#A0522D"]}, "legend": {"title": null}}
         }},
        {"data": {"values": [{}]}, "mark": {"type": "text", "align": "left", "baseline": "bottom", "fontSize": 18, "dy": -3},
         "encoding": {"x": {"datum": 4210.07}, "y": {"datum": 1}, "text": {"value": "×10⁻⁴"}}}
      ]
    },
    {
      "width": 757, "height": 128,
      "layer": [
        {"data": {"name": "h2o"}, "mark": {"type": "line", "strokeWidth": 1.5, "clip": true},
         "encoding": {
           "x": {"field": "x", "type": "quantitative", "scale": {"domain": [4210.07, 4317.4], "nice": false, "zero": false}, "axis": {"values": [4220, 4240, 4260, 4280, 4300], "format": "d", "title": "Wavenumber (cm⁻¹)", "grid": true, "labelPadding": 3, "titlePadding": 5, "labelFontSize": 15}},
           "y": {"field": "y", "type": "quantitative", "scale": {"domain": [-4, 1], "nice": false}, "axis": {"values": [0, -2, -4], "format": "d", "labelExpr": "replace(datum.label, '−', '− ')", "title": "dF/dx", "titleY": 71, "grid": true, "labelPadding": 8, "titlePadding": 10}},
           "color": {"datum": "H₂O", "scale": {"range": ["#1E90FF"]}, "legend": {"title": null}}
         }},
        {"data": {"values": [{}]}, "mark": {"type": "text", "align": "left", "baseline": "bottom", "fontSize": 18, "dy": -3},
         "encoding": {"x": {"datum": 4210.07}, "y": {"datum": 1}, "text": {"value": "×10⁻⁴"}}}
      ]
    }
  ]
}
